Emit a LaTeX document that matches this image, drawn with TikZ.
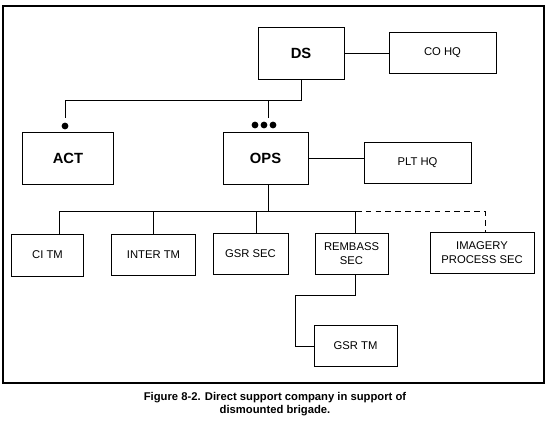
\documentclass[tikz,border=0pt]{standalone}
\usepackage{fontspec}
\setmainfont{Liberation Sans}
\usepackage{tikz}
\usetikzlibrary{positioning}
\usetikzlibrary{calc}
\tikzstyle{unitbox} = [rectangle, draw=black, line width=0.7pt, text centered, align=center, inner sep=1pt, font=\fontsize{8}{9.5}\selectfont]
\tikzstyle{cmdbox} = [unitbox, minimum width=2.15cm, minimum height=1.3cm, font=\fontsize{10.5}{12}\selectfont\bfseries]
\tikzstyle{connector} = [line width=0.7pt]
\tikzstyle{leveldot} = [circle, fill=black, inner sep=0pt, minimum size=0.17cm]

\begin{document}
\begin{tikzpicture}[x=0.025cm, y=-0.025cm]
\useasboundingbox (0,0) rectangle (550,424);
\draw [line width=1pt] (3,6) rectangle (544,383);
% command level
\node (DS) [cmdbox] at (301,53) {DS};
\node (COHQ) [unitbox, minimum width=2.675cm, minimum height=1.025cm] at (442.5,52.5) {CO HQ};
\node (ACT) [cmdbox, minimum width=2.25cm] at (68,158) {ACT};
\node (OPS) [cmdbox, minimum width=2.125cm] at (265.5,158) {OPS};
\node (PLTHQ) [unitbox, minimum width=2.675cm, minimum height=1.025cm] at (417.5,162.5) {PLT HQ};
% size markers
\node (actdot) [leveldot] at (65,126) {};
\foreach \i/\x in {1/255,2/264,3/273}
  \node (opsdot\i) [leveldot] at (\x,125) {};
\coordinate (actstub) at (65,118);
\coordinate (opsstub) at (268,118);
% sections
\node (CITM) [unitbox, minimum width=1.775cm, minimum height=1.05cm] at (47.5,255) {CI TM};
\node (INTERTM) [unitbox, minimum width=2.075cm, minimum height=1.025cm] at (153.5,254.5) {INTER TM};
\node (GSRSEC) [unitbox, minimum width=1.875cm, minimum height=1.025cm] at (250.5,253.5) {GSR SEC};
\node (REMBASS) [unitbox, minimum width=1.825cm, minimum height=1.025cm] at (351.5,253.5) {REMBASS\\SEC};
\node (IMAGERY) [unitbox, minimum width=2.6cm, minimum height=1.025cm] at (482,252.5) {IMAGERY\\PROCESS SEC};
\node (GSRTM) [unitbox, minimum width=2.075cm, minimum height=1.025cm] at (355.5,346) {GSR TM};
\node (caption) [align=center, font=\fontsize{8}{9}\selectfont\bfseries] at (275,404) {Figure 8-2. Direct support company in support of\\dismounted brigade.};
% connectors
\draw [connector] (DS.east) -- (DS.east -| COHQ.west);
\draw [connector] (DS.south) -- ++(0,21) -| (actstub);
\draw [connector] (opsstub) -- ++(0,-18);
\draw [connector] (OPS.east) -- (OPS.east -| PLTHQ.west);
\path (OPS.south) ++(3,27) coordinate (bus);
\draw [connector] ([xshift=0.075cm]OPS.south) -- (bus);
\draw [connector] ([xshift=0.29cm]CITM.north) |- ([xshift=0.11cm]REMBASS.north |- bus) -- ([xshift=0.11cm]REMBASS.north);
\draw [connector] (INTERTM.north) -- (INTERTM.north |- bus);
\draw [connector] ([xshift=0.14cm]GSRSEC.north) -- ([xshift=0.14cm]GSRSEC.north |- bus);
\draw [connector, dash pattern=on 4pt off 3pt] ([xshift=0.11cm]REMBASS.north |- bus) -| ([xshift=0.075cm]IMAGERY.north);
\draw [connector] ([xshift=0.11cm]REMBASS.south) -- ++(0,21) -- ++(-60,0) |- (GSRTM.west);
\end{tikzpicture}
\end{document}
